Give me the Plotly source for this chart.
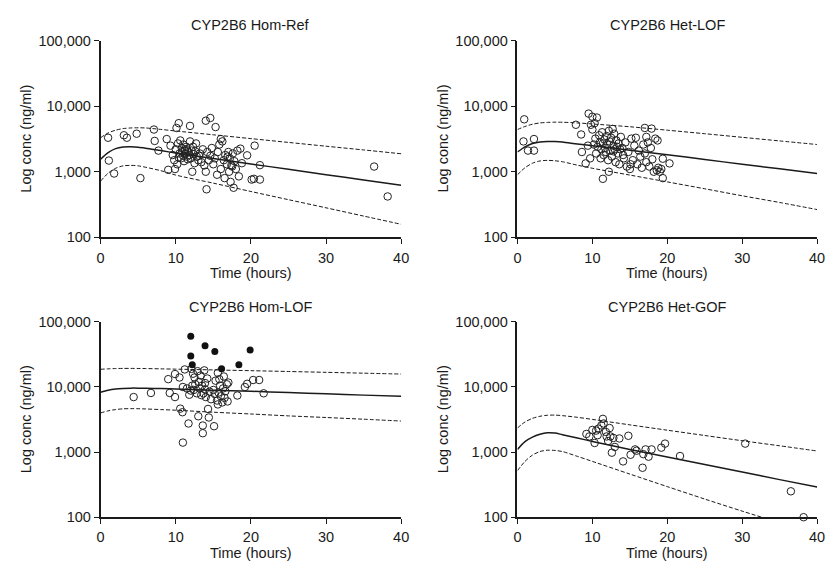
import plotly.graph_objects as go

# ---------------- data ----------------
panel_titles = ["CYP2B6 Hom-Ref", "CYP2B6 Het-LOF", "CYP2B6 Hom-LOF", "CYP2B6 Het-GOF"]
x_ticks = [0, 10, 20, 30, 40]
y_tickvals = [100, 1000, 10000, 100000]
y_ticktext = ["100", "1,000", "10,000", "100,000"]

curve_time = [0, 1, 2, 3, 4, 5, 6, 8, 10, 15, 20, 25, 30, 35, 40]

# Hom-Ref
hr_median = [1550, 1950, 2250, 2380, 2400, 2370, 2290, 2100, 1930, 1590, 1315, 1090, 902, 748, 620]
hr_upper = [3300, 3900, 4300, 4550, 4650, 4680, 4650, 4420, 4180, 3660, 3200, 2800, 2450, 2150, 1880]
hr_lower = [720, 950, 1130, 1230, 1250, 1230, 1170, 1040, 890, 670, 500, 375, 282, 211, 158]
hr_t = [1.0, 1.1, 1.8, 3.1, 3.5, 4.8, 5.3, 7.1, 7.2, 7.7, 8.8, 9.0, 9.9, 10.1, 10.4, 11.9, 14.0, 14.6,
        15.3, 14.1, 16.0, 17.7, 19.5, 20.1, 20.4, 20.5, 21.2, 21.2, 36.4, 38.2,
        9.3, 9.6, 9.8, 10.0, 10.2, 10.3, 10.5, 10.6, 10.7, 10.8, 10.9, 11.0, 11.0, 11.1, 11.2, 11.3,
        11.4, 11.5, 11.5, 11.6, 11.7, 11.8, 11.9, 12.0, 12.1, 12.2, 12.3, 12.4, 12.5, 12.7, 12.8,
        13.0, 13.2, 13.4, 13.6, 13.8, 14.0, 14.2, 14.4, 14.6, 14.8, 15.0, 15.2, 15.5, 15.8, 16.0,
        16.2, 16.4, 16.5, 16.6, 16.8, 17.0, 17.1, 17.2, 17.3, 17.5, 17.6, 17.8, 18.0, 18.2, 18.4,
        18.6, 18.8, 16.9, 17.4, 15.6, 13.1, 12.6, 11.2, 10.4]
hr_c = [3300, 1480, 940, 3600, 3300, 3800, 800, 4400, 2950, 2100, 3150, 1070, 1100, 4650, 5500, 5000,
        6000, 6600, 4800, 540, 3150, 570, 1780, 760, 780, 2500, 760, 1260, 1200, 420,
        2500, 1800, 1500, 2200, 1300, 2700, 1900, 3000, 1600, 2300, 2000, 1750, 2600, 1450, 2100, 1900,
        2400, 1700, 2200, 1550, 2000, 1800, 2900, 1600, 2100, 1000, 2400, 1850, 1350, 2700, 1700,
        1500, 1900, 1400, 2200, 1250, 1000, 2000, 1500, 1750, 2300, 1300, 1600, 900, 2600, 1100,
        2900, 1500, 800, 1800, 1300, 2000, 1000, 1600, 700, 1200, 1900, 1450, 1100, 2100, 850,
        2250, 1350, 1700, 1250, 2000, 1750, 2050, 2200, 1650]

# Het-LOF
hl_median = [2000, 2400, 2700, 2850, 2900, 2890, 2840, 2650, 2500, 2130, 1820, 1540, 1300, 1110, 940]
hl_upper = [4400, 4900, 5300, 5550, 5650, 5700, 5680, 5550, 5350, 4850, 4300, 3800, 3350, 2950, 2600]
hl_lower = [900, 1150, 1350, 1460, 1490, 1470, 1420, 1260, 1130, 890, 700, 550, 430, 340, 265]
hl_t = [0.9, 0.8, 1.4, 2.2, 2.2, 7.8, 8.5, 8.6, 9.1, 9.5, 10.0, 10.6, 9.8, 11.4, 12.2, 17.0, 17.9,
        18.7, 19.4, 20.3, 19.4, 17.2,
        10.2, 10.4, 10.5, 10.7, 10.9, 11.0, 11.1, 11.2, 11.3, 11.4, 11.5, 11.6, 11.7, 11.8, 11.9,
        12.0, 12.1, 12.2, 12.3, 12.4, 12.5, 12.6, 12.7, 12.8, 12.9, 13.0, 13.1, 13.2, 13.3, 13.4,
        13.5, 13.6, 13.8, 14.0, 14.2, 14.4, 14.6, 14.8, 15.0, 15.2, 15.4, 15.6, 15.8, 16.0, 16.2,
        16.4, 16.6, 16.8, 17.0, 17.2, 17.4, 17.6, 17.8, 18.0, 18.2, 18.4, 18.6, 18.8, 19.0, 19.2,
        9.4, 9.7, 10.0, 10.3, 12.8, 13.7, 14.1, 15.1]
hl_c = [6300, 2900, 2100, 3150, 2100, 5200, 3700, 2000, 1340, 7700, 6900, 6700, 5200, 780, 1000,
        4650, 4550, 3000, 800, 1340, 1580, 3400,
        2600, 3200, 1900, 2400, 3600, 2800, 1600, 2200, 4000, 2700, 1800, 3100, 2300, 2000, 3500,
        2600, 1500, 4200, 2900, 2100, 3300, 1700, 4500, 2500, 3800, 2200, 1400, 3000, 2400, 1900,
        2700, 1300, 3400, 2300, 1600, 2800, 1200, 2000, 1100, 3200, 1500, 2500, 3300, 1300, 2100,
        1700, 1150, 2600, 1900, 1400, 2800, 1200, 2300, 1550, 1000, 3200, 1050, 1150, 1000, 1100,
        2500, 1600, 4400, 5500, 2050, 2200, 1800, 1300]

# Hom-LOF
ml_median = [8300, 8900, 9300, 9500, 9600, 9600, 9550, 9450, 9300, 8950, 8600, 8200, 7850, 7500, 7200]
ml_upper = [18700, 19000, 19200, 19300, 19300, 19250, 19200, 19000, 18800, 18300, 17800, 17300, 16800, 16300, 15800]
ml_lower = [4000, 4300, 4500, 4620, 4650, 4640, 4600, 4500, 4400, 4100, 3850, 3600, 3400, 3200, 3000]
ml_t = [4.4, 6.7, 9.0, 9.2, 9.9, 9.9, 10.5, 10.6, 10.9, 10.95, 11.2, 11.7, 10.95, 13.0, 13.6, 13.6,
        14.3, 14.4, 15.1, 13.9, 13.7, 17.0, 16.9, 18.2, 19.2, 19.5, 20.3, 21.1, 21.7, 15.6, 15.8, 15.6,
        12.1, 12.3, 12.5, 12.2, 12.4, 12.6, 12.8, 12.9, 13.1, 13.2, 13.4, 13.3, 13.5, 13.8, 13.9,
        14.0, 14.2, 14.5, 14.7, 15.0, 15.2, 15.3, 15.5, 15.7, 15.9, 16.0, 16.2, 16.3, 16.5, 16.4,
        16.6, 16.8, 11.5, 11.8, 12.0]
ml_c = [7000, 8100, 13200, 8100, 15800, 7000, 14000, 4650, 4100, 10000, 18600, 2750, 1400, 3550,
        2560, 1950, 4600, 3400, 2500, 11500, 8000, 11700, 6000, 7400, 10000, 11200, 12800, 12800,
        8000, 16500, 13200, 5400,
        19000, 16000, 14000, 10500, 9000, 11000, 8000, 17500, 12000, 9500, 7500, 15000, 10500, 18000,
        9200, 7000, 13500, 8500, 6500, 9000, 7800, 12500, 6200, 8200, 10500, 7200, 5800, 9500, 6800,
        14500, 8600, 11000, 9500, 7600, 8800]
ml_t_high = [12.0, 12.0, 12.2, 13.9, 15.2, 16.1, 18.4, 19.9]
ml_c_high = [60000, 30000, 22000, 43000, 35000, 19000, 22000, 37000]

# Het-GOF
hg_median = [1100, 1450, 1700, 1880, 1980, 1960, 1850, 1650, 1460, 1100, 843, 645, 494, 378, 290]
hg_upper = [2350, 2900, 3300, 3550, 3680, 3700, 3630, 3420, 3180, 2620, 2170, 1800, 1495, 1250, 1040]
hg_lower = [520, 720, 900, 1020, 1070, 1060, 1020, 860, 720, 460, 295, 190, 124, 82, 54]
hg_t = [9.2, 9.6, 10.0, 10.3, 10.5, 10.8, 10.7, 11.2, 11.4, 11.5, 11.8, 12.1, 12.3, 12.4, 12.6, 12.8,
        13.0, 13.6, 14.1, 14.8, 15.1, 15.7, 16.7, 16.8, 17.1, 17.5, 17.9, 19.2, 19.7, 21.7, 30.4,
        36.5, 38.2, 11.9, 15.9]
hg_c = [1900, 1740, 2190, 1380, 2140, 2290, 1820, 2570, 3240, 2750, 2040, 1480, 2340, 1740, 980, 1650,
        1200, 1620, 720, 1780, 910, 1100, 575, 930, 1100, 850, 1100, 1170, 1350, 870, 1350,
        250, 100, 1740, 1050]

# ---------------- figure ----------------
W, H = 832, 567
INK = "#1a1a1a"
FONT = "Liberation Sans, Arial, sans-serif"
FS = 14.5

# pixel boxes of the four plot areas: (x0, x1, ytop, ybottom)
boxes = [(98, 403, 33.5, 236), (521, 825, 33.5, 236), (98, 403, 323, 524), (521, 825, 323, 524)]

panels = [
    (hr_t, hr_c, hr_median, hr_upper, hr_lower, None, None),
    (hl_t, hl_c, hl_median, hl_upper, hl_lower, None, None),
    (ml_t, ml_c, ml_median, ml_upper, ml_lower, ml_t_high, ml_c_high),
    (hg_t, hg_c, hg_median, hg_upper, hg_lower, None, None),
]

fig = go.Figure()
layout = dict(width=W, height=H, margin=dict(l=0, r=0, t=0, b=0), showlegend=False,
              plot_bgcolor="white", paper_bgcolor="white",
              font=dict(family=FONT, size=FS, color=INK))
annotations = []

for i, (t, c, med, up, lo, th, ch) in enumerate(panels):
    n = "" if i == 0 else str(i + 1)
    xa, ya = "x" + n, "y" + n
    x0, x1, yt, yb = boxes[i]
    axcommon = dict(showline=True, linecolor=INK, linewidth=1.6, ticks="outside", ticklen=5,
                    tickwidth=1.4, tickcolor=INK, showgrid=False, zeroline=False,
                    tickfont=dict(family=FONT, size=FS, color=INK))
    layout["xaxis" + n] = dict(axcommon, domain=[x0 / W, x1 / W], anchor=ya, range=[0, 40],
                               tickvals=x_ticks, ticklabelstandoff=1)
    layout["yaxis" + n] = dict(axcommon, domain=[1 - yb / H, 1 - yt / H], anchor=xa, type="log",
                               range=[2, 5], tickvals=y_tickvals, ticktext=y_ticktext)
    for vals, dash, w in ((up, "4px,2px", 1.0), (lo, "4px,2px", 1.0), (med, "solid", 1.5)):
        fig.add_trace(go.Scatter(x=curve_time, y=vals, mode="lines", xaxis=xa, yaxis=ya,
                                 line=dict(color=INK, width=w, dash=dash, shape="spline", smoothing=0.8),
                                 hoverinfo="skip"))
    fig.add_trace(go.Scatter(x=t, y=c, mode="markers", xaxis=xa, yaxis=ya, cliponaxis=False,
                             marker=dict(symbol="circle-open", size=7.5, color="#222222",
                                         line=dict(width=1, color="#222222"))))
    if th is not None:
        fig.add_trace(go.Scatter(x=th, y=ch, mode="markers", xaxis=xa, yaxis=ya, cliponaxis=False,
                                 marker=dict(symbol="circle", size=7, color="#111111")))
    xc = (x0 + x1) / 2
    annotations.append(dict(text=panel_titles[i], x=xc / W, y=1 - (yt - 15.5) / H, xref="paper",
                            yref="paper", showarrow=False, xanchor="center", yanchor="middle",
                            font=dict(size=FS, color=INK, family=FONT)))
    annotations.append(dict(text="Time (hours)", x=xc / W, y=1 - (yb + 37) / H, xref="paper",
                            yref="paper", showarrow=False, xanchor="center", yanchor="middle",
                            font=dict(size=FS, color=INK, family=FONT)))
    annotations.append(dict(text="Log conc (ng/ml)", x=(x0 - 76) / W, y=1 - (yt + yb) / 2 / H,
                            xref="paper", yref="paper", showarrow=False, textangle=-90,
                            xanchor="center", yanchor="middle",
                            font=dict(size=FS, color=INK, family=FONT)))

layout["annotations"] = annotations
fig.update_layout(**layout)
fig.write_html("out.html")
